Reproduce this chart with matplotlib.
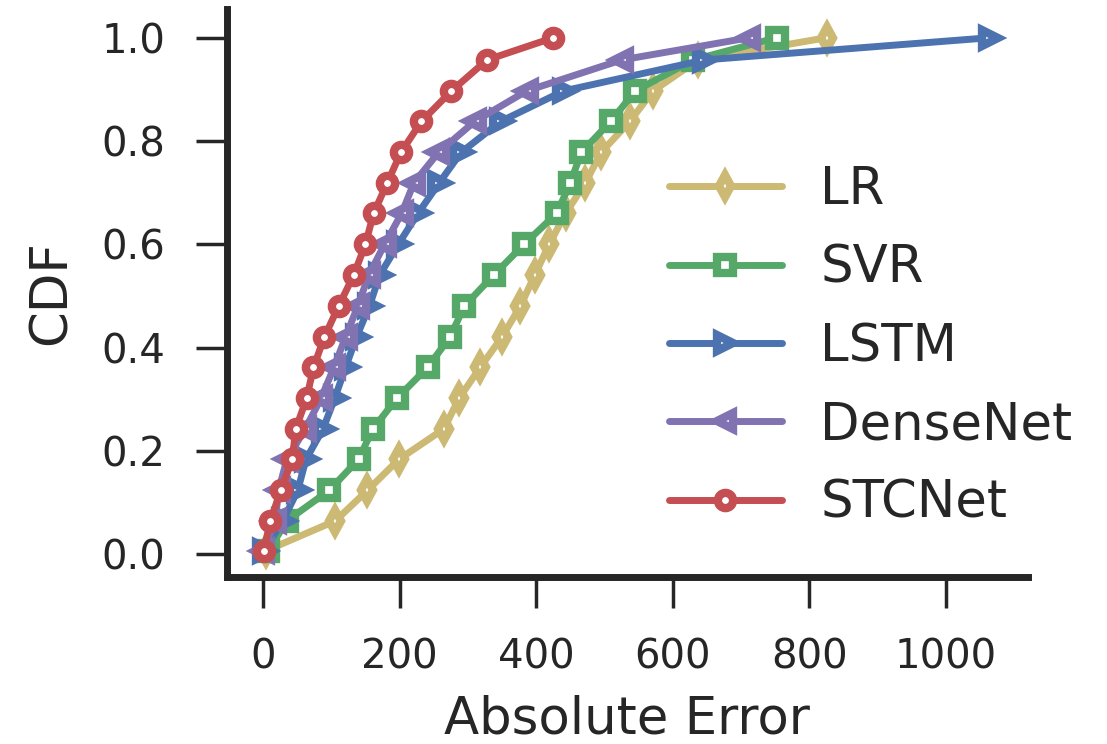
import numpy as np
import matplotlib
matplotlib.use("Agg")
import matplotlib.pyplot as plt
import seaborn as sns

sns.set_style("ticks")
plt.rcParams["font.family"] = ["DejaVu Sans"]

# CDF levels shared by every model
cdf = [0.007, 0.065, 0.124, 0.184, 0.243, 0.302, 0.362, 0.421, 0.481,
       0.541, 0.600, 0.660, 0.719, 0.778, 0.838, 0.897, 0.957, 1.0]

err_lr = [4, 106, 153, 199, 265, 287, 318, 350, 377,
          398, 419, 443, 472, 495, 537, 571, 637, 825]
err_svr = [8, 35, 97, 140, 161, 196, 241, 274, 295,
           338, 382, 430, 450, 466, 509, 545, 630, 752]
err_lstm = [2, 29, 51, 63, 88, 105, 121, 137, 156,
            171, 198, 227, 258, 290, 348, 440, 646, 1064]
err_dense = [0, 18, 23, 35, 62, 85, 104, 121, 139,
             155, 178, 203, 221, 257, 310, 386, 525, 712]
err_stc = [1, 11, 26, 43, 48, 64, 74, 90, 111,
           133, 150, 162, 182, 202, 232, 276, 328, 425]

models = ["LR", "SVR", "LSTM", "DenseNet", "STCNet"]
errors = [err_lr, err_svr, err_lstm, err_dense, err_stc]
colors = ["#CCB974", "#55A868", "#4C72B0", "#8172B2", "#C44E52"]
markers = ["d", "s", ">", "<", "o"]

fig = plt.figure(figsize=(11.07, 7.44), dpi=100)
ax = fig.add_axes([0.2048, 0.2249, 0.7239, 0.7626])

for name, err, c, m in zip(models, errors, colors, markers):
    ax.plot(err, cdf, color=c, marker=m, lw=5, ms=11, mew=6,
            mfc="white", mec=c, label=name, solid_capstyle="round")

ax.set_xlim(-53, 1120)
ax.set_ylim(-0.043, 1.055)
ax.set_xticks([0, 200, 400, 600, 800, 1000])
ax.set_yticks([0.0, 0.2, 0.4, 0.6, 0.8, 1.0])
ax.set_yticklabels(["0.0", "0.2", "0.4", "0.6", "0.8", "1.0"])
ax.tick_params(axis="both", direction="out", length=22, width=2.5,
               pad=22, labelsize=29, color="#262626", labelcolor="#262626")
for s in ["left", "bottom"]:
    ax.spines[s].set_linewidth(5)
    ax.spines[s].set_color("#262626")
sns.despine(ax=ax)

ax.set_xlabel("Absolute Error", fontsize=37, labelpad=12, color="#262626")
ax.set_ylabel("CDF", fontsize=37, labelpad=18, color="#262626")

fig.legend(loc="center left", bbox_to_anchor=(0.604, 0.5336), frameon=False,
           fontsize=37, handlelength=2.2, handletextpad=0.75,
           labelspacing=0.55, borderpad=0, borderaxespad=0)

fig.savefig("out.png", dpi=100)
